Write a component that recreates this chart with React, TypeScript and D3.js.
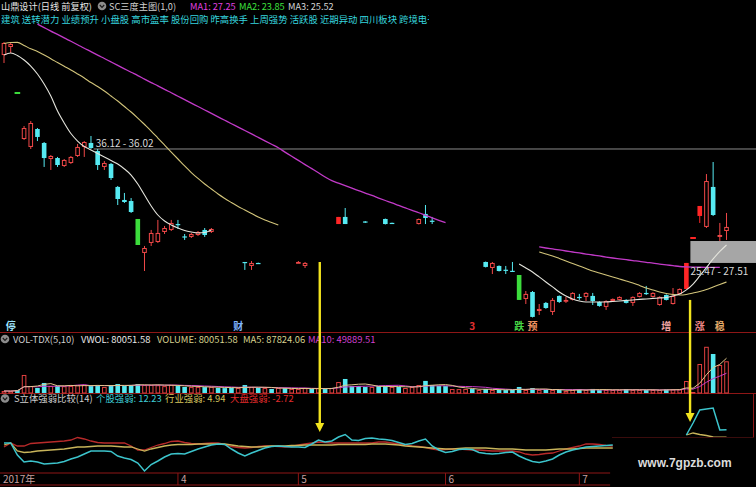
import React, { useEffect } from 'react';
import * as d3 from 'd3';

const W = 756;
const H = 487;
const FONT = '"Noto Sans CJK SC", "Noto Sans", sans-serif';

// Daily bars: [day index, open, high, low, close]
const candles: [number, number, number, number, number][] = [
  [0, 44.81, 46.02, 44.07, 45.93],
  [1, 45.56, 46.02, 45.0, 45.84],
  [2, 41.28, 41.28, 41.28, 41.28],
  [3, 37.0, 38.21, 36.91, 38.02],
  [4, 36.26, 38.67, 36.07, 38.49],
  [5, 37.93, 38.02, 36.81, 37.19],
  [6, 36.63, 36.72, 34.4, 35.23],
  [7, 35.14, 35.51, 34.12, 35.42],
  [8, 35.23, 35.33, 34.4, 34.58],
  [9, 34.49, 35.14, 34.4, 35.05],
  [10, 34.77, 35.42, 34.68, 35.33],
  [11, 35.42, 36.54, 35.33, 36.26],
  [12, 36.26, 36.81, 35.33, 36.72],
  [13, 36.63, 37.28, 36.07, 36.16],
  [14, 35.88, 36.07, 34.12, 34.58],
  [15, 34.4, 34.95, 34.12, 34.77],
  [16, 34.68, 34.77, 33.19, 33.37],
  [17, 32.54, 32.63, 30.86, 31.42],
  [18, 31.33, 31.98, 31.05, 31.14],
  [19, 31.23, 31.51, 30.12, 30.21],
  [20, 29.56, 29.56, 27.14, 27.14],
  [21, 26.4, 27.05, 24.72, 26.86],
  [22, 27.33, 28.54, 27.05, 28.26],
  [23, 27.42, 29.47, 27.33, 28.26],
  [24, 28.35, 28.91, 28.16, 28.72],
  [25, 28.54, 29.47, 28.44, 29.19],
  [26, 29.09, 29.47, 28.63, 29.0],
  [27, 27.94, 28.16, 27.61, 27.89],
  [28, 27.89, 28.26, 27.79, 28.16],
  [29, 28.07, 28.44, 27.98, 28.35],
  [30, 28.54, 28.72, 27.89, 28.07],
  [31, 28.35, 28.72, 28.26, 28.63],
  [36, 25.56, 25.56, 24.82, 25.47],
  [37, 25.19, 25.65, 24.82, 25.47],
  [38, 25.47, 25.5, 25.4, 25.42],
  [44, 25.52, 25.65, 25.5, 25.56],
  [45, 25.19, 25.56, 25.0, 25.47],
  [50, 29.09, 29.75, 29.09, 29.75],
  [51, 29.75, 30.58, 29.09, 29.09],
  [54, 29.33, 29.37, 29.19, 29.23],
  [57, 29.56, 29.6, 29.05, 29.09],
  [58, 29.2, 29.22, 29.12, 29.15],
  [62, 29.09, 29.6, 29.05, 29.56],
  [63, 30.03, 30.86, 29.09, 29.65],
  [64, 29.4, 29.75, 29.09, 29.35],
  [72, 25.56, 25.6, 25.05, 25.1],
  [73, 25.0, 25.56, 24.44, 25.47],
  [74, 25.19, 25.24, 24.68, 24.72],
  [75, 24.84, 25.19, 24.44, 24.8],
  [76, 24.74, 25.56, 24.63, 24.7],
  [77, 24.35, 24.35, 22.03, 22.03],
  [78, 22.12, 22.86, 21.65, 22.59],
  [79, 22.77, 22.86, 20.4, 20.45],
  [80, 21.0, 21.65, 20.63, 21.19],
  [81, 21.75, 21.84, 21.2, 21.28],
  [82, 20.91, 22.21, 20.63, 22.03],
  [83, 22.4, 22.45, 21.75, 21.84],
  [84, 21.98, 22.31, 21.75, 22.03],
  [85, 22.03, 22.75, 21.98, 22.68],
  [86, 22.31, 22.59, 22.03, 22.27],
  [87, 22.31, 22.75, 21.93, 22.68],
  [88, 22.4, 22.68, 21.56, 21.93],
  [89, 21.84, 21.9, 21.4, 21.47],
  [90, 21.38, 22.0, 21.1, 21.93],
  [91, 21.93, 22.17, 21.9, 22.12],
  [92, 22.03, 22.36, 22.0, 22.31],
  [93, 22.03, 22.1, 21.7, 21.75],
  [94, 21.75, 22.36, 21.47, 22.31],
  [95, 22.31, 22.75, 22.27, 22.68],
  [96, 22.68, 23.33, 22.49, 22.64],
  [97, 22.31, 22.75, 22.27, 22.68],
  [98, 21.56, 22.36, 21.5, 22.31],
  [99, 22.49, 22.55, 21.98, 22.03],
  [100, 21.65, 23.14, 21.6, 22.4],
  [101, 22.59, 23.1, 22.55, 23.05],
  [102, 23.05, 25.47, 23.05, 25.47],
  [103, 27.79, 27.79, 27.79, 27.79],
  [104, 29.84, 30.77, 29.19, 30.77],
  [105, 28.82, 33.74, 28.72, 33.09],
  [106, 32.54, 34.86, 29.84, 29.93],
  [107, 27.89, 29.19, 27.51, 28.07],
  [108, 28.44, 30.12, 27.61, 28.82],
];
const limitUpDays = [50, 102, 103, 104];
const limitDownDays = [2, 20, 77];

// Moving-average segments: [first day index, values]
const maWhite: [number, number[]][] = [
  [0, [44.81, 45.0, 44.77, 44.35, 43.79, 43.05, 42.12, 41.0, 39.6, 38.49, 37.51, 36.81, 36.3, 35.98, 35.65, 35.33,
    35.0, 34.67, 34.21, 33.65, 32.81, 31.79, 30.77, 29.93, 29.37, 29.0, 28.72, 28.49, 28.35, 28.26, 28.3, 28.54]],
  [77, [25.37, 25.0, 24.63, 24.17, 23.7, 23.24, 22.77, 22.4, 22.12, 21.93, 21.84, 21.84, 21.84, 21.84, 21.89, 21.93,
    21.98, 22.03, 22.08, 22.12, 22.17, 22.21, 22.26, 22.4, 22.58, 22.96, 23.51, 24.26, 25.05, 25.84, 26.54, 27.14]],
];
const maYellow: [number, number[]][] = [
  [0, [45.88, 45.97, 45.99, 45.7, 45.39, 45.14, 44.81, 44.47, 44.11, 43.76, 43.42, 43.05, 42.67, 42.25, 41.88, 41.46,
    41.0, 40.53, 40.02, 39.51, 38.95, 38.35, 37.74, 37.09, 36.44, 35.79, 35.14, 34.49, 33.88, 33.33, 32.81, 32.35,
    31.88, 31.47, 31.09, 30.72, 30.4, 30.07, 29.75, 29.47, 29.23, 29.0]],
  [80, [26.49, 26.3, 26.12, 25.89, 25.65, 25.42, 25.19, 24.96, 24.72, 24.54, 24.35, 24.17, 23.98, 23.79, 23.61, 23.38,
    23.14, 22.96, 22.77, 22.63, 22.54, 22.49, 22.54, 22.68, 22.82, 23.0, 23.24, 23.47, 23.7]],
];
const maMagenta: [number, number[]][] = [
  [5, [47.68, 47.36, 47.04, 46.73, 46.4, 46.09, 45.77, 45.44, 45.13, 44.8, 44.49, 44.17, 43.85, 43.53, 43.21, 42.9,
    42.57, 42.25, 41.94, 41.61, 41.3, 40.98, 40.66, 40.34, 40.02, 39.7, 39.38, 39.06, 38.74, 38.42, 38.11, 37.79,
    37.47, 37.15, 36.83, 36.51, 36.19, 35.78, 35.39, 35.01, 34.62, 34.24, 33.86, 33.47, 33.12, 32.9, 32.67, 32.43,
    32.2, 31.97, 31.75, 31.51, 31.28, 31.06, 30.82, 30.59, 30.36, 30.14, 29.9, 29.67, 29.44, 29.22]],
  [80, [26.96, 26.86, 26.77, 26.68, 26.58, 26.49, 26.4, 26.3, 26.21, 26.12, 26.02, 25.93, 25.85, 25.77, 25.69, 25.62,
    25.53, 25.46, 25.37, 25.29, 25.22, 25.14, 25.1, 25.08, 25.07, 25.06, 25.05, 25.05]],
];
const maLegend: [string, number][] = [['MA1', 27.25], ['MA2', 23.85], ['MA3', 25.52]];

// Daily volume (shares) and whether the day closed up
const volumes: number[] = [
  5100, 4800, 7600, 45500, 17700, 12600, 25300, 17600, 17900, 17200,
  17800, 20100, 20400, 17500, 20200, 15300, 20000, 22700, 17600, 20300,
  22600, 20100, 20500, 19800, 17400, 20300, 17600, 15200, 15000, 15400,
  14900, 15300, 12600, 12400, 12900, 12500, 20100, 15000, 12600, 12500,
  10100, 12700, 12300, 10200, 9900, 12400, 10300, 12600, 10000, 12500,
  27700, 35400, 17600, 17800, 15100, 15200, 17600, 17900, 15100, 15300,
  12600, 15000, 20200, 30500, 20100, 17800, 17500, 10100, 9800, 10200,
  10000, 7600, 10100, 7500, 7700, 7400, 7600, 15200, 7600, 12500,
  7400, 7700, 7500, 7600, 5100, 7600, 10000, 7500, 10200, 7400,
  7600, 7500, 7700, 10100, 7400, 7600, 7500, 7700, 7400, 8900,
  9100, 9000, 30300, 2474.8, 73200, 116668.72, 98500, 70700, 80051.58,
];
const volumeUp: number[] = [
  1, 1, 0, 1, 1, 0, 0, 1, 0, 1, 1, 1, 1, 0, 0, 1, 0, 0, 0, 0,
  0, 1, 1, 1, 1, 1, 0, 0, 1, 1, 0, 1, 0, 0, 0, 1, 0, 1, 0, 1,
  0, 1, 0, 1, 1, 1, 0, 1, 0, 1, 1, 0, 0, 0, 0, 1, 0, 0, 1, 0,
  1, 1, 1, 0, 0, 0, 0, 1, 1, 1, 0, 1, 0, 1, 0, 0, 0, 0, 1, 0,
  1, 0, 1, 0, 1, 1, 0, 1, 0, 0, 1, 1, 1, 0, 1, 1, 0, 1, 1, 0,
  1, 1, 1, 1, 1, 1, 0, 1, 1,
];

// Relative strength (14): stock, sector, market
const strengthStock: [number, number[]][] = [
  [0, [-1, -1, -13, -20, -19, -20, -22, -21.5, -21, -19.5, -17, -15, -12, -9, -9, -9, -9.5, -14, -16, -17.5,
    -21, -29, -22.5, -19, -15, -12, -11.5, -12, -9.5, -7, -5, -3, -2, -2.5, -7, -11, -14, -11, -8.5, -6,
    -4.5, -4, -4.5, -5, -5, -5.5, -2, 2, 0, 1, 5, 7.5, 2, 1.5, 3.5, 4, 3, 2.5, 1.5, -0.5,
    -2.5, -1.5, 1, 3, -4, -8, -10.5, -9.5, -7.5, -7, -7.5, -10.5, -11.5, -12, -11.5, -10.5, -10, -14, -17, -19.5,
    -20.5, -19, -17, -13, -10, -8, -6.5, -5, -4.5, -4, -3.5, -3]],
  [102, [7, 19, 32, 33, 34, 12, 12.23]],
];
const strengthSector: [number, number[]][] = [
  [0, [-3, -1, -9, -10.5, -10, -9, -8.5, -8, -7.5, -7, -6, -5, -5, -4.5, -4, -4, -4, -4.5, -5, -5,
    -7, -9, -7, -5.5, -4, -3, -2.5, -2.5, -2.5, -2, -2, -2, -2, -2, -3, -4, -4.5, -5, -5, -4.5,
    -4, -4, -4, -3.5, -3.5, -3, -3, -3, -3, -3, -2.5, -2.5, -2.5, -2.5, -2.5, -2, -2, -2, -2.5, -3,
    -4, -4.5, -5, -5.5, -6, -6.5, -7, -7, -6.5, -6, -6, -6, -6, -6.5, -7, -7, -7, -7.5, -8, -8,
    -8, -8, -7.5, -7, -7, -7, -6.5, -6, -6, -6, -6, -6]],
  [102, [7, 9, 7.5, 6.5, 5, 4.94, 4.94]],
];
const strengthMarket: [number, number[]][] = [
  [0, [-5, -1, -4, -4, -1.5, -1, -0.5, 0, 0.5, 1, 2, 4.5, 3, 1, -0.5, -1, -1, -1, -1, -4,
    -8, -8, -5.5, -3, -1.5, 0.5, 1, -0.5, -1.5, -2, -1.5, -1, -1, -2.5, -4.5, -5.5, -6, -5.5, -4.5, -4,
    -4, -4.5, -5, -4.5, -3, -2, -1, 0, -0.5, -1, -1, -1, -1, -1, -1, -1, 0, 0, -1, -2,
    -3, -4, -4.5, -5.5, -7, -8, -7.5, -7, -7, -7.5, -8, -8, -8.5, -9, -9, -9, -9, -10, -12, -13,
    -12.5, -11.5, -11, -9, -7, -5.5, -4, -2, -2, -2.5, -3.5, -4]],
  [108, [-2.72]],
];

const monthTicks: [number, string][] = [[0, '2017年'], [26, '4'], [44, '5'], [66, '6'], [86, '7']];
const eventTags: [number, string][] = [
  [1, '停'], [35, '财'], [70, '3'], [77, '跌'], [79, '预'], [99, '增'], [104, '涨'], [107, '稳'],
];
const conceptTags = ['建筑', '送转潜力', '业绩预升', '小盘股', '高市盈率', '股份回购', '昨高换手', '上周强势',
  '活跃股', '近期异动', '四川板块', '跨境电子'];
// [start day, first price, second price]
const upperBand: [number, number, number] = [13.4, 36.12, 36.02];
const lowerBand: [number, number, number] = [102.6, 25.47, 27.51];
// [day, price where it starts, strength value at its tip]
const arrows: [number, number, number][] = [[47.2, 25.56, 10], [102.55, 22.03, 20]];

const RED = '#f04848';
const RED_FILL = '#ff2626';
const CYAN = '#56eaf2';
const GREEN = '#3cdc3c';
const GRID_RED = '#8e1616';

const tagColor: Record<string, string> = {
  停: '#9fe6ff', 财: '#7fb4ff', '3': '#e03030', 跌: '#46d846', 预: '#f09462', 增: '#f2a4a4', 涨: '#f08a8a', 稳: '#e2a868',
};

function Icon({ cx, cy }: { cx: number; cy: number }) {
  return (
    <g>
      <circle cx={cx} cy={cy} r={4.3} fill="#8c8c8c" />
      <path d={`M${cx - 2.2},${cy - 1} L${cx},${cy + 1.3} L${cx + 2.2},${cy - 1}`} stroke="#1a1a1a" strokeWidth={1.2} fill="none" />
    </g>
  );
}

export default function App() {
  useEffect(() => {
    document.body.style.margin = '0';
    document.body.style.background = '#000';
  }, []);

  const step = 6.69;
  const x = d3.scaleLinear().domain([0, 108]).range([4, 4 + 108 * step]);
  const yP = d3.scaleLinear().domain([20, 46]).range([321.75, 42.25]);
  const yV = d3.scaleLinear().domain([0, 141400]).range([393, 337]);
  const yI = d3.scaleLinear().domain([-30, 35]).range([472, 407]);
  const bw = 4.6;

  const toPts = (segs: [number, number[]][]) => segs.map(([s, vals]) => vals.map((v, k) => [s + k, v] as [number, number]));
  const priceLine = d3.line<[number, number]>().x(d => x(d[0])).y(d => yP(d[1])).curve(d3.curveMonotoneX);
  const indLine = d3.line<[number, number]>().x(d => x(d[0])).y(d => yI(d[1]));
  const volLine = d3.line<[number, number]>().x(d => x(d[0])).y(d => yV(d[1]));
  const volMA = (n: number) =>
    volumes.map((_, i) => [i, d3.mean(volumes.slice(Math.max(0, i - n + 1), i + 1)) as number] as [number, number]);

  const ma5 = volMA(5);
  const ma10 = volMA(10);
  const lastVol = volumes[volumes.length - 1];
  const last = (segs: [number, number[]][]) => {
    const s = segs[segs.length - 1][1];
    return s[s.length - 1];
  };

  const upLineY = yP((upperBand[1] + upperBand[2]) / 2);

  return (
    <svg width={W} height={H} style={{ position: 'fixed', left: 0, top: 0, background: '#000', fontFamily: FONT }}>
      <defs>
        <clipPath id="tagClip"><rect x={0} y={12} width={429} height={16} /></clipPath>
      </defs>
      <rect x={0} y={0} width={W} height={H} fill="#000" />

      {/* header */}
      <text x={1} y={9.5} fontSize={9.2} fill="#e6e6e6">山鼎设计(日线 前复权)</text>
      <Icon cx={102} cy={6} />
      <text x={109} y={9.5} fontSize={9.2} fill="#cfcfcf">SC三度主图(1,0)</text>
      {maLegend.map(([name, v], k) => (
        <text key={name} x={[190, 239, 288][k]} y={9.5} fontSize={9.2} fill={['#e040e0', '#3ee03e', '#d6d6d6'][k]}>
          {`${name}: ${v.toFixed(2)}`}
        </text>
      ))}
      <text x={1} y={23} fontSize={9.4} fill="#36d4de" clipPath="url(#tagClip)">{conceptTags.join(' ')}</text>

      {/* price bands */}
      <rect x={x(lowerBand[0])} y={yP(lowerBand[2])} width={W - x(lowerBand[0])} height={yP(lowerBand[1]) - yP(lowerBand[2])} fill="#a6a6a6" />
      <line x1={x(upperBand[0])} x2={W} y1={upLineY} y2={upLineY} stroke="#8a8a8a" strokeWidth={1} />

      {/* candles */}
      {candles.map(([i, o, h, l, c]) => {
        const cx = x(i);
        const lu = limitUpDays.includes(i);
        const ld = limitDownDays.includes(i);
        const up = c >= o;
        const col = ld ? GREEN : lu ? RED_FILL : up ? RED : CYAN;
        const top = yP(Math.max(o, c));
        const bh = Math.abs(yP(o) - yP(c));
        const flat = h === l;
        if (flat) {
          return <rect key={i} x={cx - bw / 2 - 0.5} y={yP(c) - 1} width={bw + 1} height={2} fill={col} />;
        }
        const hollow = up && !lu && !ld;
        return (
          <g key={i}>
            <line x1={cx} x2={cx} y1={yP(h)} y2={yP(l)} stroke={col} strokeWidth={1} />
            {hollow ? (
              <rect x={cx - bw / 2 + 0.5} y={top + 0.5} width={bw - 1} height={Math.max(bh - 1, 0.8)} fill="#000" stroke={col} strokeWidth={1} />
            ) : (
              <rect x={cx - bw / 2} y={top} width={bw} height={Math.max(bh, 1.2)} fill={col} />
            )}
          </g>
        );
      })}

      {/* price moving averages */}
      {toPts(maMagenta).map((p, k) => <path key={`m${k}`} d={priceLine(p) as string} fill="none" stroke="#c23ac8" strokeWidth={1.3} />)}
      {toPts(maYellow).map((p, k) => <path key={`y${k}`} d={priceLine(p) as string} fill="none" stroke="#d2c47a" strokeWidth={1.1} />)}
      {toPts(maWhite).map((p, k) => <path key={`w${k}`} d={priceLine(p) as string} fill="none" stroke="#e4e4dc" strokeWidth={1.1} />)}

      <text x={x(upperBand[0]) + 2} y={upLineY - 1.5} fontSize={10} fill="#d8d8d8">
        {`${upperBand[1].toFixed(2)} - ${upperBand[2].toFixed(2)}`}
      </text>
      <text x={x(lowerBand[0])} y={yP(lowerBand[1]) + 12} fontSize={10} fill="#d8d8d8">
        {`${lowerBand[1].toFixed(2)} - ${lowerBand[2].toFixed(2)}`}
      </text>

      {/* event tags */}
      {eventTags.map(([i, t]) => (
        <text key={`e${i}`} x={x(i)} y={330} fontSize={10} fontWeight={700} textAnchor="middle" fill={tagColor[t]}>{t}</text>
      ))}

      {/* panel separators */}
      <line x1={0} x2={W} y1={332.5} y2={332.5} stroke={GRID_RED} strokeWidth={1.2} />
      <line x1={0} x2={W} y1={393.5} y2={393.5} stroke={GRID_RED} strokeWidth={1.2} />

      {/* volume */}
      <Icon cx={5} cy={339} />
      <text x={13} y={342.5} fontSize={9.4} fill="#cfcfcf">VOL-TDX(5,10)</text>
      <text x={81} y={342.5} fontSize={9.4} fill="#e8e8e8">{`VWOL: ${lastVol.toFixed(2)}`}</text>
      <text x={157} y={342.5} fontSize={9.4} fill="#d6d08e">{`VOLUME: ${lastVol.toFixed(2)}`}</text>
      <text x={243} y={342.5} fontSize={9.4} fill="#d6d08e">{`MA5: ${ma5[ma5.length - 1][1].toFixed(2)}`}</text>
      <text x={308} y={342.5} fontSize={9.4} fill="#d040d0">{`MA10: ${ma10[ma10.length - 1][1].toFixed(2)}`}</text>
      {volumes.map((v, i) => {
        const cx = x(i);
        const top = Math.min(yV(v), 392);
        const up = volumeUp[i] === 1;
        return up ? (
          <rect key={`v${i}`} x={cx - bw / 2 + 0.5} y={top + 0.5} width={bw - 1} height={393 - top - 0.5} fill="#000" stroke="#e04040" strokeWidth={1} />
        ) : (
          <rect key={`v${i}`} x={cx - bw / 2} y={top} width={bw} height={393 - top} fill={CYAN} />
        );
      })}
      <path d={volLine(ma10) as string} fill="none" stroke="#c83cc8" strokeWidth={1} />
      <path d={volLine(ma5) as string} fill="none" stroke="#e2c88c" strokeWidth={1} />

      {/* relative strength */}
      <Icon cx={5} cy={398.5} />
      <text x={14} y={402} fontSize={9.4} fill="#cfcfcf">S立体强弱比较(14)</text>
      <text x={96} y={402} fontSize={9.4} fill="#3ecdd6">{`个股强弱: ${last(strengthStock).toFixed(2)}`}</text>
      <text x={165} y={402} fontSize={9.4} fill="#d6c45e">{`行业强弱: ${last(strengthSector).toFixed(2)}`}</text>
      <text x={230} y={402} fontSize={9.4} fill="#e02c2c">{`大盘强弱: ${last(strengthMarket).toFixed(2)}`}</text>
      {toPts(strengthMarket).map((p, k) => <path key={`r${k}`} d={indLine(p) as string} fill="none" stroke="#b82a2a" strokeWidth={1.3} />)}
      {toPts(strengthSector).map((p, k) => <path key={`s${k}`} d={indLine(p) as string} fill="none" stroke="#c8b45a" strokeWidth={1.3} />)}
      {toPts(strengthStock).map((p, k) => <path key={`c${k}`} d={indLine(p) as string} fill="none" stroke="#3cc4cc" strokeWidth={1.5} />)}
      <line x1={612} x2={753} y1={437.5} y2={437.5} stroke="#3a0c0c" strokeWidth={1} />
      <line x1={753.5} x2={753.5} y1={394} y2={437.5} stroke={GRID_RED} strokeWidth={1} />

      {/* date axis */}
      <line x1={0} x2={x(90.6)} y1={473} y2={473} stroke={GRID_RED} strokeWidth={1.2} />
      <line x1={0} x2={x(90.6)} y1={485} y2={485} stroke={GRID_RED} strokeWidth={1.2} />
      {monthTicks.map(([i, t]) => (
        <g key={`t${t}`}>
          {i > 0 && <line x1={x(i)} x2={x(i)} y1={473} y2={485} stroke={GRID_RED} strokeWidth={1} />}
          <text x={i > 0 ? x(i) + 3 : 3} y={483} fontSize={10} fill="#c8a0a0">{t}</text>
        </g>
      ))}

      <text x={638} y={467} fontSize={12} fontWeight={700} fill="#dcdcdc" fontFamily='"Liberation Sans", Arial, sans-serif'>www.7gpzb.com</text>

      {/* arrows */}
      {arrows.map(([i, p, v], k) => {
        const ax = x(i);
        const y1 = yP(p);
        const tip = yI(v);
        return (
          <g key={`a${k}`}>
            <line x1={ax} x2={ax} y1={y1} y2={tip - 8} stroke="#f2e41e" strokeWidth={2.4} />
            <path d={`M${ax - 4.5},${tip - 9} L${ax + 4.5},${tip - 9} L${ax},${tip} Z`} fill="#f2e41e" />
          </g>
        );
      })}
    </svg>
  );
}
